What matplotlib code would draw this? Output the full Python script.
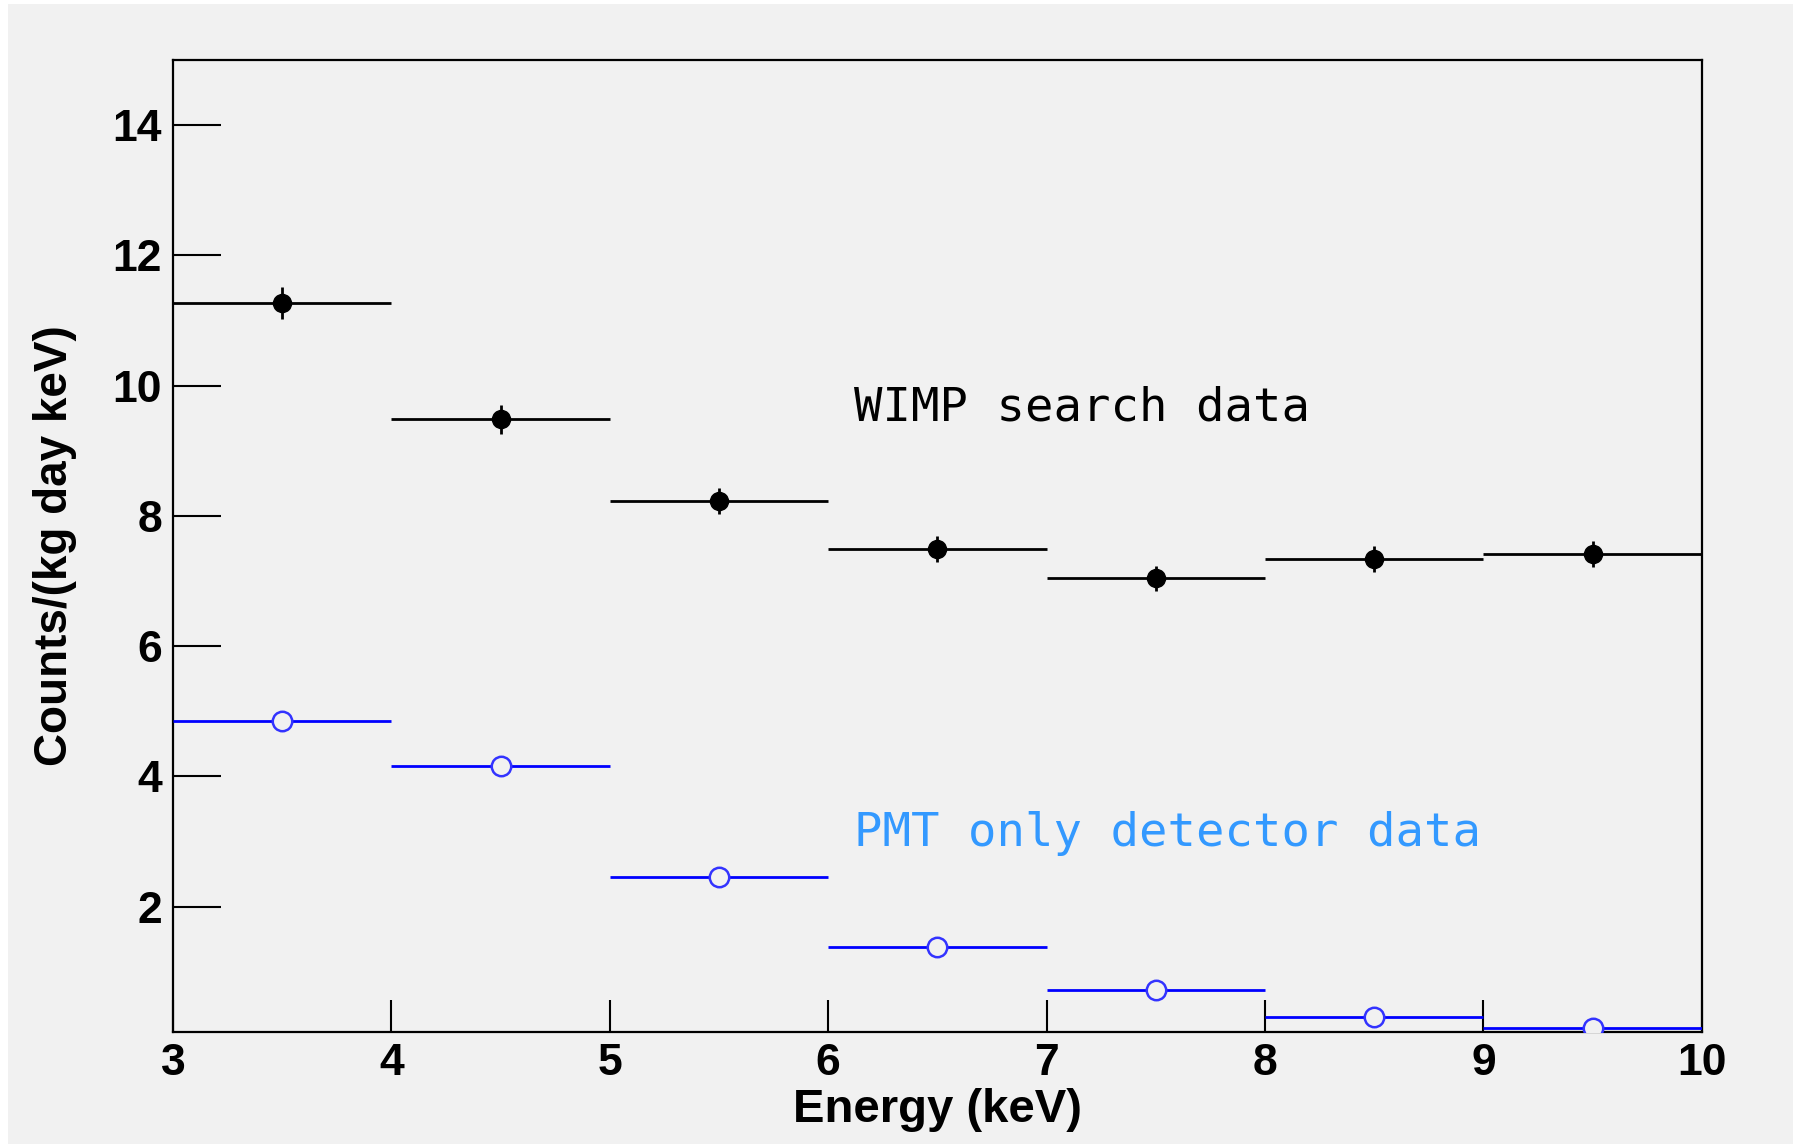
import matplotlib.pyplot as plt
from matplotlib.patches import Rectangle

# bin centres (keV)
energy = [3.5, 4.5, 5.5, 6.5, 7.5, 8.5, 9.5]
bin_half = 0.5

wimp_rate = [11.27, 9.48, 8.23, 7.49, 7.04, 7.34, 7.42]
wimp_err = [0.24, 0.22, 0.2, 0.2, 0.19, 0.2, 0.2]

pmt_rate = [4.85, 4.16, 2.45, 1.38, 0.72, 0.30, 0.13]
pmt_err = [0.14, 0.13, 0.1, 0.08, 0.06, 0.04, 0.03]

xticks = [3, 4, 5, 6, 7, 8, 9, 10]
yticks = [2, 4, 6, 8, 10, 12, 14]

bg = '#f1f1f1'
plt.rcParams['font.family'] = ['Liberation Sans', 'DejaVu Sans']

fig = plt.figure(figsize=(17.93, 11.44), dpi=100)
fig.patch.set_facecolor('white')
fig.add_artist(Rectangle((8/1793, 0), 1, 1 - 4/1144, transform=fig.transFigure,
                         facecolor=bg, edgecolor='none', zorder=-10))

ax = fig.add_axes([0.0965, 0.0982, 0.8526, 0.8494])
ax.set_facecolor(bg)

ax.errorbar(energy, wimp_rate, xerr=bin_half, yerr=wimp_err, fmt='o', color='black',
            ms=13, elinewidth=2, capsize=0, zorder=3)
ax.errorbar(energy, pmt_rate, xerr=bin_half, yerr=pmt_err, fmt='o', color='blue',
            mfc=bg, mec='#3333ff', mew=1.8, ms=14, elinewidth=2, capsize=0, zorder=3)

ax.text(6.12, 9.46, 'WIMP search data', family='DejaVu Sans Mono', fontsize=34,
        color='black', va='baseline')
ax.text(6.12, 2.93, 'PMT only detector data', family='DejaVu Sans Mono', fontsize=34,
        color='#3399ff', va='baseline')

ax.set_xlim(3, 10)
ax.set_ylim(0.08, 15)
ax.set_xticks(xticks)
ax.set_yticks(yticks)
ax.tick_params(axis='y', direction='in', length=34.5, width=1.5, labelsize=32, pad=8)
ax.tick_params(axis='x', direction='in', length=23, width=1.5, labelsize=32, pad=8)
for lab in ax.get_xticklabels() + ax.get_yticklabels():
    lab.set_fontweight('bold')
for s in ax.spines.values():
    s.set_linewidth(1.6)

ax.set_xlabel('Energy (keV)', fontsize=34, fontweight='bold')
ax.set_ylabel('Counts/(kg day keV)', fontsize=33, fontweight='bold')
ax.xaxis.set_label_coords(0.5, -0.058)
ax.xaxis.label.set_va('top')
ax.yaxis.set_label_coords(-0.063, 0.5)

fig.savefig('out.png', dpi=100, facecolor=fig.get_facecolor())
